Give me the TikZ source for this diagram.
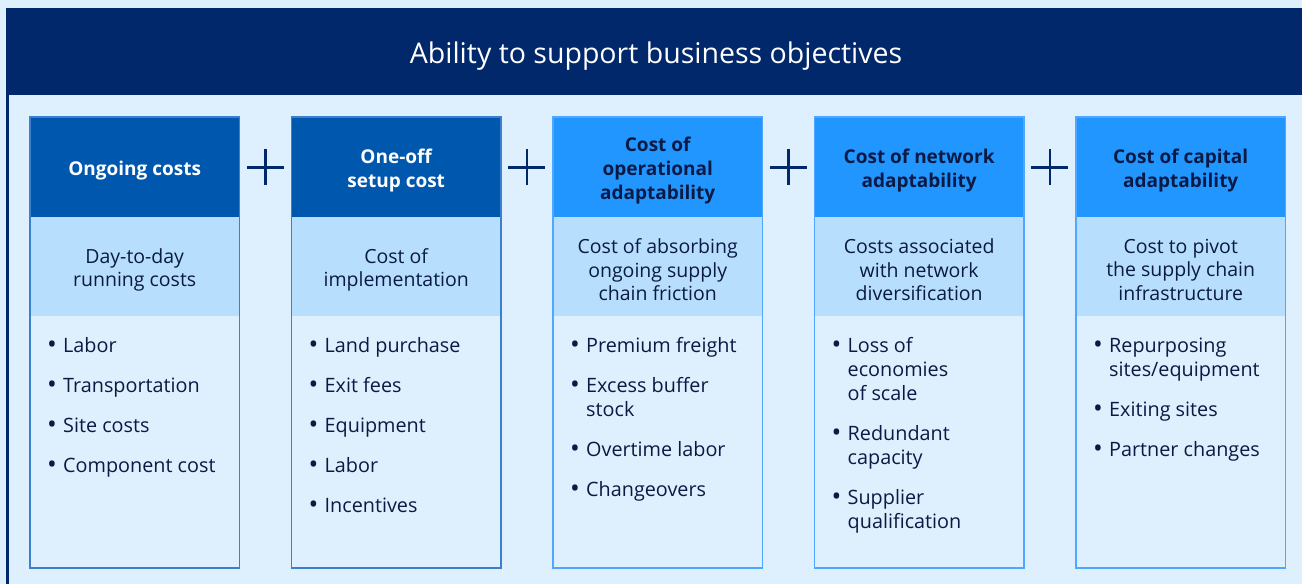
\documentclass[tikz,border=0pt]{standalone}
\usepackage{fontspec}
\setmainfont{Open Sans}
\usetikzlibrary{calc}
\definecolor{bg}{HTML}{DEF0FE}
\definecolor{navy}{HTML}{00286A}
\definecolor{hdark}{HTML}{0057AE}
\definecolor{hbright}{HTML}{2196FF}
\definecolor{sublight}{HTML}{B8DEFD}
\definecolor{txt}{HTML}{0A1A44}
\definecolor{edgedark}{HTML}{3D7FCF}
\definecolor{edgebright}{HTML}{4FA8FF}
\tikzset{
  box/.style={anchor=north west, inner sep=0pt, minimum width=209pt, draw=none},
  hdrbox/.style={box, minimum height=100pt},
  subbox/.style={box, minimum height=99pt, fill=sublight},
  listbox/.style={box, minimum height=251.5pt, fill=bg},
  hdrtxt/.style={font=\fontsize{19}{24}\selectfont\bfseries, align=center, inner sep=0pt},
  subtxt/.style={font=\fontsize{19.5}{23.5}\selectfont, align=center, inner sep=0pt, text=txt},
  itemtxt/.style={font=\fontsize{19.8}{24}\selectfont, align=left, inner sep=0pt, anchor=north west, text=txt},
  plusline/.style={draw=navy, line width=2.6pt},
  outline/.style={line width=1.6pt},
}
\newcommand{\bul}{\strut\makebox[15pt][l]{\hspace*{-1pt}\raisebox{-1.6pt}{\fontsize{26}{24}\selectfont •}}}
\newcommand{\ind}{\hspace*{15pt}}
\begin{document}
\begin{tikzpicture}[x=1pt,y=-1pt]
\fill[bg] (0,0) rectangle (1302,584);
\useasboundingbox (0,0) rectangle (1302,584);
% title band
\node[fill=navy, anchor=north west, inner sep=0pt, minimum width=1296pt, minimum height=87pt] (band) at (6,8) {};
\node[text=white, font=\fontsize{28.5}{32}\selectfont, inner sep=0pt, anchor=base] (title) at (656,63) {Ability to support business objectives};
\draw[navy, line width=3pt] (band.south west) ++(1.5,0) coordinate (lb) -- (lb |- 0,584);

% columns
\foreach \i/\x/\hc/\ec in {1/30/hdark/edgedark, 2/291.5/hdark/edgedark, 3/553/hbright/edgebright, 4/814.5/hbright/edgebright, 5/1076/hbright/edgebright}{
  \node[hdrbox, fill=\hc] (h\i) at (\x,117) {};
  \node[subbox] (s\i) at (\x,217) {};
  \node[listbox] (l\i) at (\x,316) {};
  \draw[outline, draw=\ec] (h\i.north west) rectangle (l\i.south east);
}

% header texts
\node[hdrtxt, text=white] (ht1) at ([yshift=-3pt]h1.center) {Ongoing costs};
\node[hdrtxt, text=white] (ht2) at ([yshift=-3pt]h2.center) {One-off\\setup cost};
\node[hdrtxt, text=txt] (ht3) at ([yshift=-3pt]h3.center) {Cost of\\operational\\adaptability};
\node[hdrtxt, text=txt] (ht4) at ([yshift=-3pt]h4.center) {Cost of network\\adaptability};
\node[hdrtxt, text=txt] (ht5) at ([yshift=-3pt]h5.center) {Cost of capital\\adaptability};

% sub texts
\node[subtxt] (st1) at ([yshift=-3pt]s1.center) {Day-to-day\\running costs};
\node[subtxt] (st2) at ([yshift=-3pt]s2.center) {Cost of\\implementation};
\node[subtxt] (st3) at ([yshift=-3pt]s3.center) {Cost of absorbing\\ongoing supply\\chain friction};
\node[subtxt] (st4) at ([yshift=-3pt]s4.center) {Costs associated\\with network\\diversification};
\node[subtxt] (st5) at ([yshift=-3pt]s5.center) {Cost to pivot\\the supply chain\\infrastructure};

% list items (top = baseline - 16.8)
% column 1
\node[itemtxt] (a1) at (48,335.2) {\bul Labor};
\node[itemtxt] (a2) at (48,375.2) {\bul Transportation};
\node[itemtxt] (a3) at (48,415.2) {\bul Site costs};
\node[itemtxt] (a4) at (48,455.2) {\bul Component cost};
% column 2
\node[itemtxt] (b1) at (309.5,335.2) {\bul Land purchase};
\node[itemtxt] (b2) at (309.5,375.2) {\bul Exit fees};
\node[itemtxt] (b3) at (309.5,415.2) {\bul Equipment};
\node[itemtxt] (b4) at (309.5,455.2) {\bul Labor};
\node[itemtxt] (b5) at (309.5,495.2) {\bul Incentives};
% column 3
\node[itemtxt] (c1) at (571,335.2) {\bul Premium freight};
\node[itemtxt] (c2) at (571,375.2) {\bul Excess buffer\\\ind stock};
\node[itemtxt] (c3) at (571,439.2) {\bul Overtime labor};
\node[itemtxt] (c4) at (571,479.2) {\bul Changeovers};
% column 4
\node[itemtxt] (d1) at (832.5,335.2) {\bul Loss of\\\ind economies\\\ind of scale};
\node[itemtxt] (d2) at (832.5,423.2) {\bul Redundant\\\ind capacity};
\node[itemtxt] (d3) at (832.5,487.2) {\bul Supplier\\\ind qualification};
% column 5
\node[itemtxt] (e1) at (1094,335.2) {\bul Repurposing\\\ind sites/equipment};
\node[itemtxt] (e2) at (1094,399.2) {\bul Exiting sites};
\node[itemtxt] (e3) at (1094,439.2) {\bul Partner changes};

% plus signs
\foreach \j/\a/\b in {1/1/2, 2/2/3, 3/3/4, 4/4/5}{
  \coordinate (p\j) at ($(h\a.east)!0.5!(h\b.west)$);
  \draw[plusline] ([yshift=18pt]p\j) -- ([yshift=-18pt]p\j) ([xshift=-18.5pt]p\j) -- ([xshift=18.5pt]p\j);
}
\end{tikzpicture}
\end{document}
